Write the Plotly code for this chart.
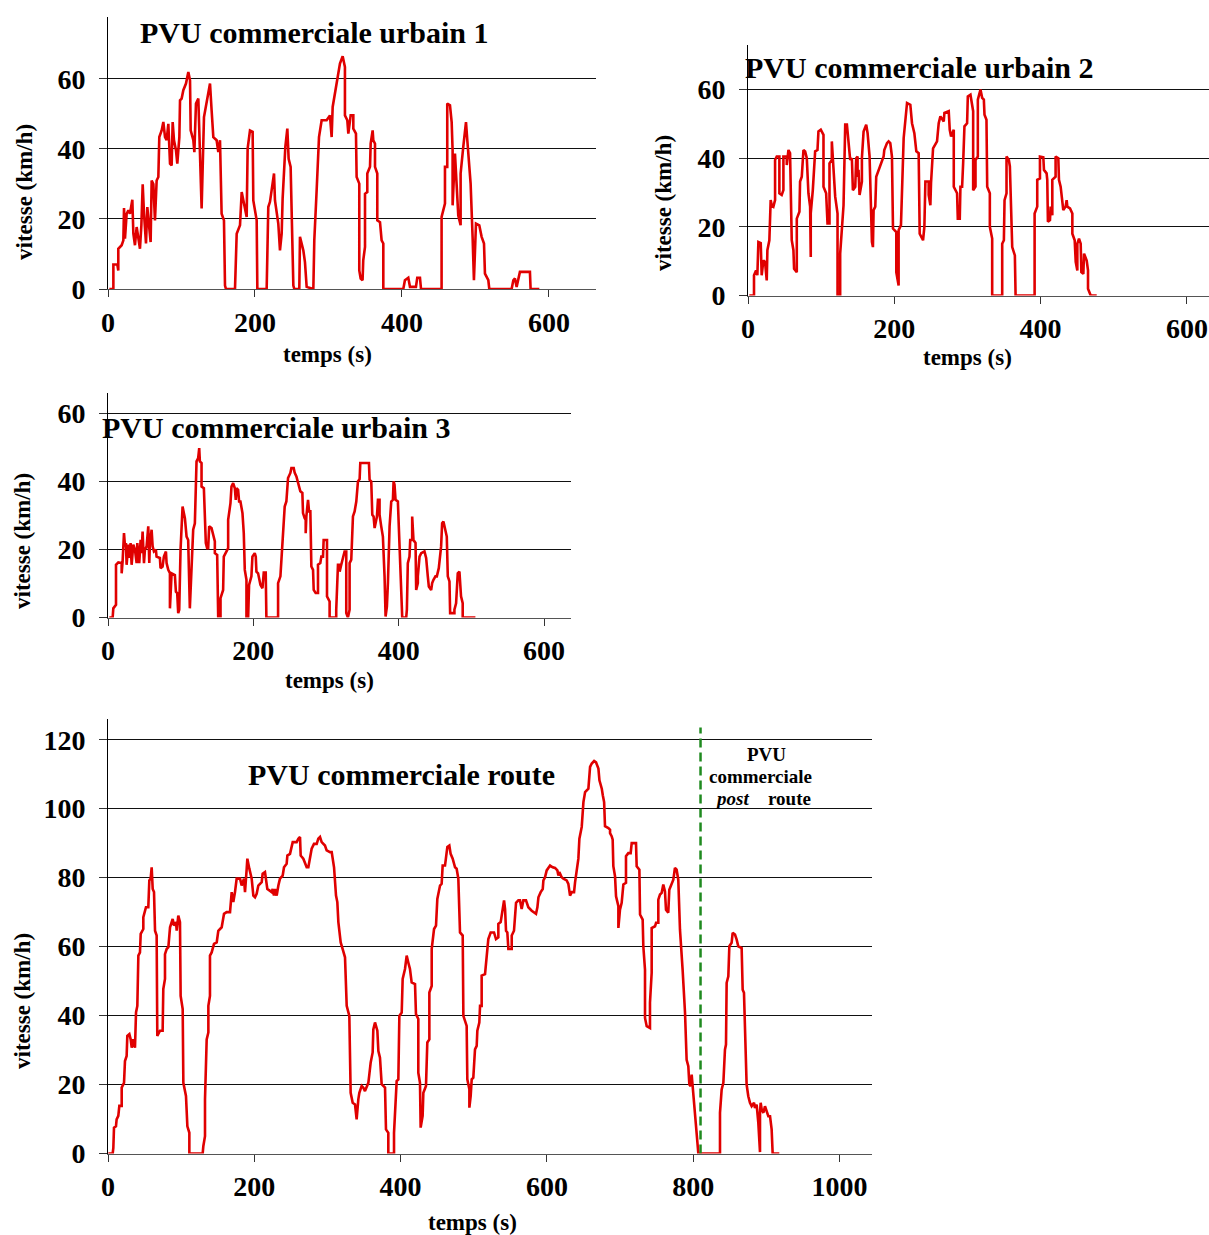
import plotly.graph_objects as go

# ---------------- data ----------------
urbain1_t = [1.8,7.3,7.3,12.7,14,14,18.6,20.9,21.8,23.1,
 25.4,27.7,29.9,33.1,34.5,36.7,39,41.3,43.5,45.4,
 47.2,49,51.7,53.5,56.2,58,59.4,61.7,63.9,66.2,
 68.5,69.8,73,75.3,77.6,79.8,82.1,84.4,86.6,88,
 89.8,92.5,94.3,97.1,98,100.2,102.5,106.1,109.3,111.6,
 112.5,116.1,117.5,119.7,122.9,124.3,127.4,130.6,134.2,138.8,
 141,143.3,147.8,150.1,152.4,154.6,157.8,159.2,160.5,172.8,
 175.1,179.6,181.9,185,188.7,190,193.2,196.8,197.7,202.3,
 203.2,215.9,218.1,220.4,225.9,227.2,231.7,234,236.3,237.6,
 241.3,244,245.8,248.5,249.9,252.2,253.5,260.3,261.2,265.8,
 268,270.3,279.4,280.7,283.9,287.1,290.7,297.5,302,304.3,
 305.7,311.1,313.4,315.6,319.3,321,322.4,322.4,325.6,327,
 330.2,333.8,333.8,337.4,338.3,341.9,341.9,343.8,346.4,347.3,
 349.7,349.7,352.8,352.8,356.5,357.4,360.1,361,363.3,363.3,
 366.4,366.4,370.1,372.3,374.6,374.6,401.8,404,408.6,410.9,
 419,420.8,424.5,425.9,453.9,453.9,458.5,458.5,461.6,461.6,
 465.3,467.6,468.9,468.9,472.1,474.3,476.6,479.8,479.8,483.4,
 487.1,488.9,493.4,496.1,497.9,500.7,505.2,508.4,511.6,512.9,
 517.5,518.8,549.2,551.5,553.7,556,560.5,574.1,575,586.9]
urbain1_v = [0,0,7,7,5.3,11.5,12.5,13.9,23.1,14.4,
 21.5,22.5,21.5,25.5,15.8,12.5,17.7,14.9,11.5,18.2,
 29.9,21.5,13,23.4,17.7,13.4,31,30,19.6,31,
 32,43.4,45.3,47.7,43.4,42.5,47.2,35.8,35.3,47.7,
 42.5,39.6,35.8,43.4,53.9,54.4,56.8,58.7,62,59.6,
 45.3,42.5,39.1,53,54.4,46.3,23,49.1,53.4,58.7,
 51,43.4,42.5,39.1,42.5,21.5,19.6,1,0,0,
 15.8,18.2,27.7,24.4,20.6,40.1,45.3,44.9,25.3,19.6,
 0,0,23.4,24.9,33,25.3,18.7,11,15.8,25.8,
 40.6,45.8,37.2,34.9,23.4,1,0,0,14.9,11,
 7.7,0.6,0,13.9,28.2,43.4,48.2,48.2,49.6,43.4,
 52,59.1,62.5,64.4,66.5,64.4,63.4,49.6,48.2,44.4,
 49.6,49.6,45.8,44.4,32,30.1,5.3,3,2.5,8.2,
 12,27.2,27.7,33,34.9,41.5,45.3,42.5,41.5,34.9,
 33,19.6,19.1,13.9,13,0,0,2.5,3.2,0.6,
 0.6,3.2,3.2,0,0,20.6,24.4,34.9,34.9,53,
 52.5,47.7,39.6,23.9,38.7,30.1,21,18.2,33,40.6,
 47.7,42.5,30.1,14.9,2.5,18.7,18.2,14.9,13,4.4,
 2.5,0,0,2.5,3,0.6,4.9,4.9,0,0]

urbain2_t = [1.8,8.2,8.2,11,12.8,14.2,17.4,18.7,21,23.3,
 25.6,26.5,29.2,31,32.4,34.7,37,37,39.3,42.9,
 42.9,46.1,48.4,48.4,53,53,55.3,57.5,59.8,62.1,
 63,66.7,66.7,70.3,71.2,73.5,75.8,78.1,80.4,82.6,
 84.9,85.8,85.8,88.6,89.5,91.8,95,96.3,99.5,103.2,
 103.2,106.8,108.7,111.4,111.4,114.6,114.6,116,119.2,122.4,
 122.4,126,126,130.6,132.9,135.2,137.4,139.7,142,143.4,
 146.6,147.9,149.8,149.8,151.1,152.5,155.7,155.7,158,161.6,
 163.5,166.2,169.4,170.8,171.7,174,175.3,180.8,183.1,185.4,
 186.3,190,192.2,194.5,196.8,198.2,202.7,202.7,205.9,205.9,
 209.1,210.5,212.8,217.4,221.9,224.2,227.4,230.1,233.3,234.7,
 237.9,239.3,241.1,242.5,247,247,249.3,250.2,253,258.4,
 260.7,263,267.6,268.5,274.4,275.8,277.6,281.3,281.3,285.8,
 286.8,289.5,290.4,292.7,294.1,295.9,299.5,300.5,304.1,306.4,
 307.8,307.8,311,311,314.2,314.2,317.8,320.1,322.4,323.3,
 326,327,330.6,330.6,333.8,333.8,347.5,347.5,349.8,350.7,
 353.4,353.4,356.6,358,358.9,361.2,364.8,365.8,391.8,391.8,
 395.4,395.4,399.1,399.1,403.7,404.6,408.2,409.1,410,412.8,
 413.7,416,416,420.5,420.5,424.2,425.1,427.4,431,434.2,
 435.6,436.5,440.2,443.4,443.4,446.6,448,450.2,450.2,452.5,
 454.8,455.7,458.4,459.4,463,464.8,464.8,468.5,476.7]
urbain2_v = [0,0,5.9,7.3,5.9,15.6,15.3,5.9,10.2,9.8,
 4.4,13.2,16.1,27.8,26.3,25.9,27.8,39.5,40.5,40.5,
 29.8,29.3,30.7,40.5,40.5,38,42.4,41.5,16.1,13.2,
 7.8,6.8,22.4,24.4,33.2,34.6,42.4,42,40,29.8,
 25.9,11.2,23.9,30.7,34.6,42,42.4,47.8,48.3,46.8,
 31.7,29.8,21,21,38.5,39.5,44.9,39.5,28.8,23.9,
 0,0,12.2,26.3,49.8,49.8,44.9,39.5,40,30.7,
 31.7,40,40.5,34.6,36.6,29.3,33.2,40,47.8,49.8,
 47.3,40.5,15.6,14.1,24.9,25.9,34.6,37.6,39,40.5,
 42.4,44.4,44.9,44.4,40.5,19.5,18.5,6.8,2.9,19,
 20.5,30.7,45.9,56.1,55.6,50.2,47.3,42,41.5,18,
 16.6,16.1,20,33.2,33.2,29.3,26.3,32.7,42.9,44.9,
 50.2,52.2,50.7,53.2,53.7,48.3,46.3,48.3,31.7,29.8,
 22.4,22.4,31.7,31.7,38.5,49.3,50.2,58,58.5,54.6,
 53.7,30.7,31.7,39.5,40.5,57.1,60,57.6,57.1,52.7,
 51.2,31.7,29.8,20,16.6,0,0,15.1,16.1,27.8,
 29.8,40.5,39.5,37.6,31.7,14.1,11.7,0,0,23.9,
 25.9,33.7,34.1,40.5,40.3,36.6,35.6,33.7,21.5,22,
 25.9,23.4,33.7,34.6,40.5,40,33.7,31.7,24.9,25.9,
 27.8,25.9,25.4,23.9,18,16.1,9.8,7.3,15.1,16.6,
 15.1,6.8,6.3,12.2,10.2,7.3,2,0,0]

urbain3_t = [1.8,6.4,7.3,11,11,14.2,18.8,18.8,20.1,22,
 23.4,24.7,25.6,27.9,29.3,31.1,32.5,34.8,37.1,39.4,
 40.3,43,44.9,46.2,47.6,49.5,50.8,53.1,55.4,56.8,
 57.7,60,61.4,63.2,65.9,66.8,71.4,72.3,75.1,76.9,
 79.7,80.6,82.9,85.2,85.2,87.5,92,93.4,95.2,96.6,
 98,98.9,99.8,102.6,105.8,108.1,110.3,112.6,114.9,117.2,
 119.5,120.9,121.8,124.1,125.5,126.4,128.7,128.7,131.9,134.6,
 136.4,137.8,139.2,142.4,143.8,147,147,150.2,151.6,154.8,
 154.8,158.4,159.3,162.1,165.3,165.3,168.5,169.9,172.2,174.5,
 175.8,176.7,179,180.4,182.2,185,186.8,188.2,190.5,190.5,
 192.8,194.1,197.3,198.7,201.9,203.3,204.2,206.5,207.9,209.7,
 212.5,214.3,217,217.9,234,234,237.2,238.6,240.8,243.1,
 245.4,247.7,250.9,252.3,255.5,256.9,259.2,261.4,262.8,264.6,
 267.4,268.3,270.6,272,272,272.9,275.2,276.6,278.4,279.8,
 282.1,283,285.7,288.9,288.9,292.1,293.5,295.8,296.7,301.3,
 301.3,304.9,304.9,314,314,316.4,318.7,318.7,320.9,323.3,
 325.5,327.8,327.8,330.1,332.4,332.4,334.7,337,339.3,341.6,
 343.9,346.2,347.1,359,359.9,362.2,363.6,365.4,366.8,370,
 371.4,373.6,373.6,375.9,378.2,380.5,381.9,383.7,385.1,387.4,
 389.7,392,392.9,394.2,395.6,398.8,401.1,403.4,404.8,410.3,
 411.2,412.5,414.8,415.8,418.5,418.5,420.3,423.1,424,426.3,
 426.3,428.6,430.9,435.4,437.7,440,441.4,444.6,446,447.8,
 450.5,452.4,455.1,458.3,459.7,461.5,462.9,466.1,467.5,469.8,
 470.7,476.6,476.6,478.9,481.2,483.5,485.7,488,488,505.5]
urbain3_v = [0,0,2.7,3.7,15.5,16.2,16,13,16.5,24.8,
 20.9,21.9,15.5,21.4,17.5,21.9,15.5,21.4,19.9,16,
 21.9,16,22.8,18.9,25.3,16,19.9,20.9,26.8,16,
 21.9,25.8,20.9,19.4,19.9,17.9,17.5,14.5,15,17.9,
 19.4,16,14,13,2.7,13,12.5,7.6,7.2,1.3,
 2.3,9.1,19.9,32.6,29.2,23.8,22.8,2.7,16,25.8,
 27.7,37.1,45.9,46.9,49.8,45.9,45.4,38.5,38,21.9,
 20.4,20.4,26.8,26.3,24.8,22.4,18.9,18.4,0.3,0.3,
 5.7,8.1,17.9,19.1,20.4,28.7,33.6,38.5,39.5,38,
 34.6,38,37.5,34.1,34.1,30.7,24.8,14,11.1,0,
 0,9.6,12.1,17.9,18.9,17.9,13.5,13,11.1,9.6,
 8.6,13.2,13.2,0,0,10.1,12.1,17,22.8,32.6,
 34.1,41,42.5,43.9,43.9,42.5,41.5,39.5,39,37.1,
 36.6,30.7,29.2,28.7,24.8,29.7,34.6,31.2,31.2,15,
 14,8.1,7.2,7.2,15.5,16,17.9,17.9,22.8,22.8,
 6.2,4.7,0,0,2.3,15.5,15.5,13.5,15.5,17.9,
 19.4,19.4,1.3,0,2.3,16,17,29.7,31.2,34.1,
 40,40.7,45.4,45.4,40.5,40,30.2,29.7,26.3,29.7,
 34.6,34.6,30.2,26.8,23.8,12.1,0.3,3.2,10.1,26.8,
 34.1,34.6,40,39,34.6,34.1,21.9,12.1,0,0,
 2.3,16,17.9,22.8,22.8,29.7,22.8,21.9,8.1,10.1,
 12.1,17.9,18.9,19.4,17.5,12.1,9.1,8.1,10.1,11.1,
 12.1,12.1,14.5,20.9,27.7,28.2,26.8,23.8,12.1,10.6,
 1.3,1.3,2.3,4.2,13,13.5,6.2,4.2,0,0]

route_t = [0.5,6.4,7.3,8.2,10.9,11.8,14.1,15.5,18.7,18.7,
 21.9,23.2,25.5,26.4,29.2,31,32.4,34.6,36.9,38.3,
 40.1,41.5,43.7,44.7,48.3,48.3,51.9,55.1,56.5,58.3,
 59.7,61.1,62.9,64.3,66.5,67.4,71.1,74.7,75.6,77.9,
 77.9,80.2,82.5,84.8,88.4,90.2,93,93.9,96.1,98.4,
 99.3,102.1,103,106.6,108.5,111.2,111.2,129.4,130.3,132.6,
 132.6,134.9,137.2,137.2,139.4,139.4,141.7,144,144.9,148.6,
 150.8,155.4,158.6,162.2,166.8,169.1,171.3,173.6,175.9,180.5,
 182.7,185.9,187.3,189.6,190.5,193.2,196.4,198.7,201,203.2,
 205.5,210.1,211.4,214.6,216,217.8,220.6,223.7,225.1,226.9,
 228.3,230.6,232.9,235.1,238.8,240.6,244.2,245.2,248.8,252.5,
 257.9,260.2,262.5,263.4,267,269.3,271.6,273.9,275.2,278.4,
 281.6,285.3,287.5,289.8,292.1,296.6,298.9,303.5,305.8,307.1,
 309,311.7,313.5,314.9,316.2,318.1,320.8,324,326.3,329.9,
 331.7,334.5,337.7,339.9,342.2,343.6,346.8,349.1,351.3,353.6,
 355.9,357.3,359.1,361.8,362.7,365,368.2,369.6,371.8,374.1,
 378.7,380,383.2,383.2,391,391,392.4,394.6,396.9,398.3,
 401.5,402.8,406,408.3,410.5,412.8,415.1,419.7,421,424.2,
 424.2,426.5,427.4,430.1,431.1,434.7,436.5,439.3,439.3,442.5,
 442.5,445.7,448.4,450.2,453.9,456.1,457.5,460.7,463.9,466.6,
 468.4,471.2,474.4,476.6,478.9,481.2,484.9,485.8,490.3,491.2,
 494,494,495.8,497.2,499.4,501.7,504,504.9,507.6,508.6,
 510.8,510.8,515.4,516.8,518.6,519.9,523.1,527.7,530.4,533.6,
 533.6,536.8,539.6,541.4,542.8,544.1,545.9,547.3,551.9,551.9,
 555,556.4,557.8,561,563.2,565.5,567.8,571.4,574.6,579.2,
 585.1,587,588.4,591.5,594.3,595.2,597.4,599.7,602,604.3,
 607.9,611.1,614.3,615.7,617,620.2,622.5,627,629.3,630.7,
 631.6,633.9,637.1,638.5,640.7,643,644.4,647.6,649.9,652.2,
 656.7,659,661.3,664.5,667.2,670.4,671.8,675,676.4,678.2,
 679.4,684,686.3,686.3,688.5,689.9,690.8,693.1,694.5,697.7,
 697.7,699.9,702.2,704.5,708.1,708.1,711.3,714.5,715.9,721.8,
 722.7,726.4,727.3,730.9,731.8,734.1,734.1,736.4,740.9,740.9,
 743.2,743.2,747.8,749.2,752.3,752.3,754.6,756.9,759.1,761.4,
 762.8,765.9,767.3,770.5,772.8,775,777.3,779.6,781.9,785.5,
 788.8,791,793.3,794.7,796.5,797.9,799.2,802.4,803.8,805.6,
 807,836.6,836.6,838.9,841.2,843.4,844.8,845.7,848,849.4,
 852.5,853.9,857.1,859.4,861.6,866.2,867.6,869.4,870.8,873,
 873,875.3,877.6,879.9,883.1,884.4,886.7,889,891.3,891.3,
 892.2,893.6,895.9,898.1,900.4,902.7,905,907.2,908.6,917.7]
route_v = [0,0,1.6,7.5,7.9,9.9,10.9,13.8,13.8,19.1,
 20.5,26.8,28.3,34.1,34.6,33.1,30.7,33.1,30.7,40.9,
 42.8,57.4,58.3,63.7,65.1,68.5,71.4,71.4,79.2,79.7,
 83,76.7,75.8,64.6,63.2,34.1,35.6,35.6,47.7,50.6,
 57.8,59.3,59.8,65.6,68,66.1,67.1,64.6,69,67.1,
 45.7,41.9,20.5,16.7,7.9,6,0,0,2.1,5,
 15.7,33.1,35.1,42.8,45.7,57.4,58.3,59.8,60.8,61.2,
 64.6,65.6,69.5,70,70,75.8,72.9,75.8,79.7,79.7,
 77.7,79.7,75.8,82.6,85.5,82.6,79.7,74.8,74.3,75.3,
 77.7,78.7,81.1,81.6,78.7,76.7,76.3,75.8,76.7,74.8,
 76.7,74.8,77.7,79.7,80.6,83,84,86.4,86.9,90.3,
 90.3,91.3,91.8,86.4,85.5,84,83,83,84.5,88.4,
 89.8,89.8,91.3,91.8,90.3,89.3,87.9,87.4,87.4,85.9,
 83,74.8,72.9,67.1,65.1,61.2,59.3,56.9,42.8,39.9,
 17.6,14.7,14.2,9.9,15.7,17.6,19.6,19.1,18.1,19.1,
 20.5,23,26.4,29.3,36,38,35.6,29.7,27.8,20.1,
 19.1,7,6,0,0,6,13.3,21,21.5,39.9,
 40.9,50.6,53.5,57.4,55.4,53.5,49.6,49.1,40.4,39,
 23.4,20.5,7.5,10.9,17.6,19.6,32.2,33.1,46.7,48.6,
 59.3,65.1,66.1,73.8,77.7,78.2,83.5,83.5,88.9,89.3,
 86.9,85.5,83,82.6,79.7,64.1,63.2,39.9,37,21.5,
 18.6,13.3,16.7,21.5,22,30.2,31.2,35.6,38,42.8,
 42.8,51.6,52,56.4,59.3,62.2,64.1,64.1,62.2,62.7,
 66.6,67.1,71.9,73.4,70.9,64.6,64.1,59.3,59.3,63.2,
 64.6,68.5,72.7,73.4,73.4,70.9,73.4,73.4,71.4,70.4,
 69.5,71.4,74.3,75.8,76.7,79.2,80.1,82.1,83,83.5,
 83,82.8,82.1,80.6,81.6,80.1,79.7,79.2,78.2,76.7,
 74.8,75.8,75.8,78.7,81.6,85.5,91.3,94.7,101.9,104.8,
 105.8,112.1,113.1,113.8,113.4,111.6,108.2,105.8,103.9,101.9,
 94.9,94.4,93.9,92.9,92,91,83.3,80.4,74.6,71.7,
 65.4,70.7,72.7,78,78.5,86.2,87.1,87.1,90,90,
 83.3,82.3,69.3,67.8,60.1,53.3,39.3,36.9,36.4,43.7,
 52.4,65.4,65.9,66.9,66.9,73.6,75.1,75.6,78,76,
 70.7,69.8,76.5,78.5,79.4,82.8,82.3,79.4,64.9,53.3,
 40.8,27.2,25.3,20,19.5,22.9,19.5,12.8,9.4,2.1,
 0,0,11.8,18.6,20.5,30.1,31.6,49.5,51.4,60.1,
 61.1,64,63.5,62,60.1,59.6,47.5,46.6,35.9,25.3,
 20,16.6,14.7,13.7,14.7,13.2,14.2,8.9,0.4,11.8,
 14.7,12.8,11.8,13.7,12.3,10.8,10.8,7,0,0]

post_route_start = 810
titles = ["PVU commerciale urbain 1", "PVU commerciale urbain 2",
          "PVU commerciale urbain 3", "PVU commerciale route"]
y_ticks_urbain = [0, 20, 40, 60]
y_ticks_route = [0, 20, 40, 60, 80, 100, 120]
x_ticks_urbain = [0, 200, 400, 600]
x_ticks_route = [0, 200, 400, 600, 800, 1000]

# ---------------- layout helpers ----------------
W, H = 1209, 1235
FONT = "Liberation Serif"
RED = "#e00000"


def px(xp):
    return xp / W


def py(yp):
    return 1 - yp / H


fig = go.Figure()

panels = [
    # (t, v, x0px, x1px, ybot, ytop, xmax, ymax, yticks, xticks)
    (urbain1_t, urbain1_v, 108, 596, 289, 17, 664, 77.7, y_ticks_urbain, x_ticks_urbain),
    (urbain2_t, urbain2_v, 748, 1209, 295.5, 45, 630.2, 73, y_ticks_urbain, x_ticks_urbain),
    (urbain3_t, urbain3_v, 108, 571, 617.5, 393, 637, 66, y_ticks_urbain, x_ticks_urbain),
    (route_t, route_v, 108, 872, 1153.5, 719, 1044.4, 126, y_ticks_route, x_ticks_route),
]

tickfont = dict(family=FONT, size=28, color="black", weight="bold")

for i, (t, v, x0, x1, yb, yt, xmax, ymax, yticks, xticks) in enumerate(panels, start=1):
    sfx = "" if i == 1 else str(i)
    fig.add_trace(go.Scatter(x=t, y=v, mode="lines",
                             line=dict(color=RED, width=2.6),
                             xaxis="x" + sfx, yaxis="y" + sfx,
                             showlegend=False, hoverinfo="skip"))
    fig.layout["xaxis" + sfx] = dict(
        domain=[px(x0), px(x1)], range=[0, xmax], anchor="y" + sfx,
        showgrid=False, zeroline=False, showline=True, linecolor="#555", linewidth=1,
        ticks="outside", ticklen=7, tickcolor="#333", tickwidth=1,
        tickvals=xticks, tickfont=tickfont, ticklabelstandoff=1, automargin=False)
    # companion axis drawing the upper half of the x tick marks (they cross the axis)
    fig.layout["xaxis" + str(4 + i)] = dict(
        domain=[px(x0), px(x1)], range=[0, xmax], anchor="y" + sfx,
        overlaying="x" + sfx, side="bottom",
        showgrid=False, zeroline=False, showline=False,
        ticks="inside", ticklen=7, tickcolor="#333", tickwidth=1,
        tickvals=xticks, showticklabels=False, automargin=False)
    fig.layout["yaxis" + sfx] = dict(
        domain=[py(yb), py(yt)], range=[0, ymax], anchor="x" + sfx,
        showgrid=True, gridcolor="#111", gridwidth=1, zeroline=False,
        showline=True, linecolor="black", linewidth=1,
        ticks="outside", ticklen=8, tickcolor="#333", tickwidth=1,
        tickvals=yticks, tickfont=tickfont, ticklabelstandoff=8, automargin=False)

# green dashed separator (post route)
fig.add_trace(go.Scatter(x=[post_route_start, post_route_start], y=[0, 123.5],
                         mode="lines", xaxis="x4", yaxis="y4",
                         line=dict(color="#1f8a1f", width=2.5, dash="9px,5px"),
                         showlegend=False, hoverinfo="skip"))

ann = []


def add_text(text, xp, yp, size, angle=0, xanchor="center"):
    ann.append(dict(text=text, x=px(xp), y=py(yp), xref="paper", yref="paper",
                    xanchor=xanchor, yanchor="middle", showarrow=False, textangle=angle,
                    borderpad=0,
                    font=dict(family=FONT, size=size, color="black", weight="bold")))


add_text(titles[0], 314.5, 33, 30)
add_text(titles[1], 919, 67, 30)
add_text(titles[2], 276, 427, 30)
add_text(titles[3], 402, 774, 30)

for (xp, yp) in [(25, 192), (663, 203), (22, 541), (22, 1001)]:
    add_text("vitesse (km/h)", xp, yp, 23, angle=-90)
for (xp, yp) in [(327, 355), (967, 357), (329, 680), (473, 1222)]:
    add_text("temps (s)", xp, yp, 23)

add_text("PVU", 766, 754, 19)
add_text("commerciale", 760, 776, 19)
add_text("<i>post</i>", 732, 798, 19)
add_text("route", 790, 798, 19)

fig.update_layout(width=W, height=H,
                  margin=dict(l=0, r=0, t=0, b=0, pad=0, autoexpand=False),
                  paper_bgcolor="white", plot_bgcolor="white",
                  annotations=ann, showlegend=False)

fig.write_html("out.html", config={"displayModeBar": False, "staticPlot": True},
               post_script="document.body.style.margin='0';document.body.style.overflow='hidden';")
